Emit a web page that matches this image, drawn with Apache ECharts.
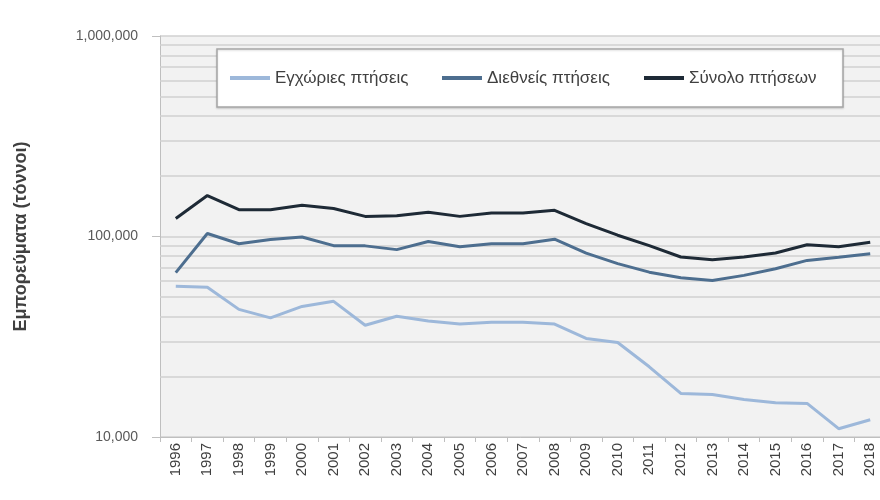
<!DOCTYPE html>
<html>
<head>
<meta charset="utf-8">
<script src="https://cdn.jsdelivr.net/npm/echarts@6/dist/echarts.min.js"></script>
<style>html,body{margin:0;padding:0;background:#fff}#c{width:880px;height:500px}</style>
</head>
<body>
<div id="c"></div>
<script>
const years = ['1996','1997','1998','1999','2000','2001','2002','2003','2004','2005','2006','2007','2008','2009','2010','2011','2012','2013','2014','2015','2016','2017','2018'];
const domestic = [56400,55800,43300,39300,44800,47500,36100,40000,37900,36600,37300,37400,36600,31000,29600,22400,16500,16300,15400,14800,14700,11000,12200];
const international = [66000,103500,92000,96500,99500,90000,89800,86000,94400,89000,92000,92000,97000,82600,73200,66400,62300,60400,64000,69000,76000,78900,82000];
const total = [123000,160000,136000,136000,143000,138000,126000,127000,132000,126000,131000,131000,135000,116000,101500,90000,79000,76600,79000,82700,91000,89000,93500];
const yMin = 10000, yMax = 1000000;
const minorGrid = [20000,30000,40000,50000,60000,70000,80000,90000,200000,300000,400000,500000,600000,700000,800000,900000];
const names = ['Εγχώριες πτήσεις','Διεθνείς πτήσεις','Σύνολο πτήσεων'];
const colors = ['#9db8da','#4d6e8f','#1e2a36'];
const legendTextWidths = [155, 145, 143];

const chart = echarts.init(document.getElementById('c'));
const font = '"Liberation Sans", "DejaVu Sans", sans-serif';
chart.setOption({
  animation: false,
  backgroundColor: '#ffffff',
  textStyle: { fontFamily: font },
  grid: { left: 160, width: 726, top: 36, bottom: 63, show: true, backgroundColor: '#f2f2f2', borderWidth: 0, outerBoundsMode: 'none', containLabel: false },
  legend: {
    data: names.map((n, i) => ({ name: n, textStyle: { width: legendTextWidths[i] } })),
    left: 217, top: 49,
    padding: [20, 11, 20, 13],
    icon: 'rect',
    itemWidth: 40, itemHeight: 4, itemGap: 12,
    backgroundColor: '#ffffff',
    borderColor: '#a6a6a6', borderWidth: 1.5,
    shadowColor: 'rgba(0,0,0,0.15)', shadowBlur: 2, shadowOffsetY: 1,
    textStyle: { fontFamily: font, fontSize: 17, color: '#404040', lineHeight: 18 }
  },
  xAxis: {
    type: 'category', data: years, boundaryGap: true,
    axisLine: { lineStyle: { color: '#bfbfbf' } },
    axisTick: { show: true, length: 5, lineStyle: { color: '#bfbfbf' } },
    axisLabel: { rotate: 90, fontSize: 15, color: '#404040', margin: 6, fontFamily: font }
  },
  yAxis: {
    type: 'log', logBase: 10, min: yMin, max: yMax,
    name: 'Εμπορεύματα (τόννοι)', nameLocation: 'middle', nameGap: 130, nameRotate: 90,
    nameTextStyle: { fontSize: 18, fontWeight: 'bold', color: '#404040', fontFamily: font },
    axisLine: { show: true, lineStyle: { color: '#bfbfbf' } },
    axisTick: { show: true, length: 8, lineStyle: { color: '#bfbfbf' } },
    axisLabel: { fontSize: 14, color: '#595959', margin: 22, fontFamily: font,
      formatter: v => Math.round(v).toLocaleString('en-US') },
    splitLine: { show: true, lineStyle: { color: '#d0d0d0', width: 1.5 } }
  },
  series: [
    { name: names[0], type: 'line', data: domestic, symbol: 'none', lineStyle: { width: 3, color: colors[0] }, itemStyle: { color: colors[0] }, z: 3,
      markLine: { silent: true, symbol: 'none', label: { show: false }, animation: false,
        lineStyle: { color: '#d0d0d0', type: 'solid', width: 1.5 },
        data: minorGrid.map(v => ({ yAxis: v })), z: 1 } },
    { name: names[1], type: 'line', data: international, symbol: 'none', lineStyle: { width: 3, color: colors[1] }, itemStyle: { color: colors[1] }, z: 4 },
    { name: names[2], type: 'line', data: total, symbol: 'none', lineStyle: { width: 3, color: colors[2] }, itemStyle: { color: colors[2] }, z: 5 }
  ]
});
</script>
</body>
</html>
